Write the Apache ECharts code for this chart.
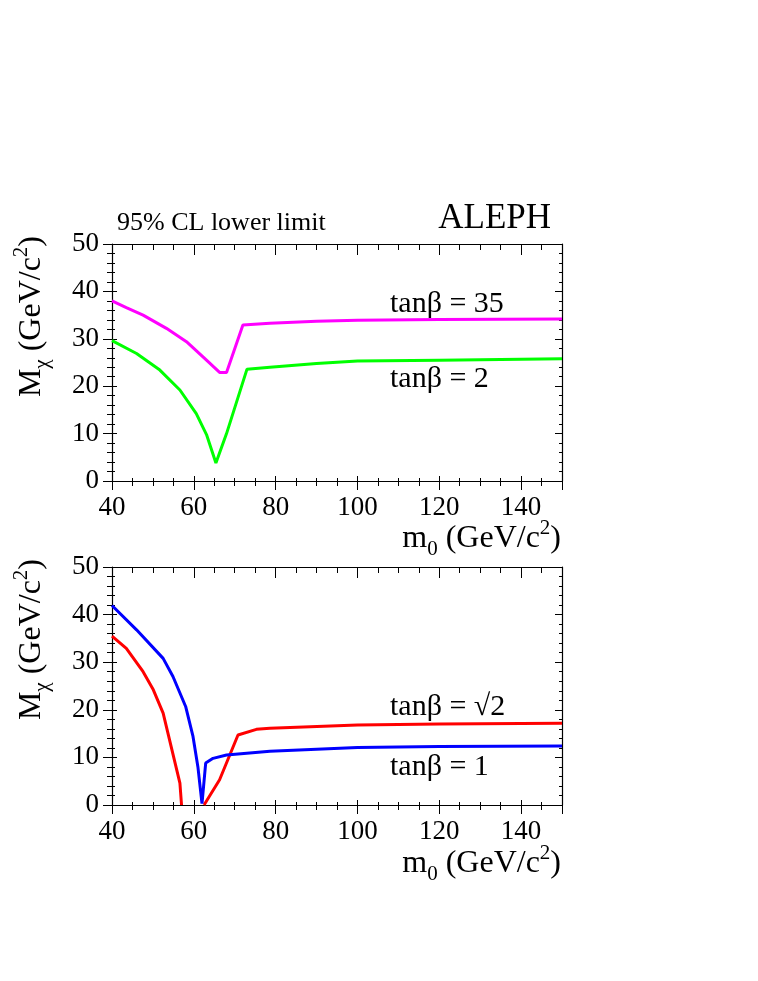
<!DOCTYPE html>
<html>
<head>
<meta charset="utf-8">
<script src="https://cdn.jsdelivr.net/npm/echarts@6.0.0/dist/echarts.min.js"></script>
<style>
  html, body { margin: 0; padding: 0; background: #fff; }
  #main { width: 758px; height: 981px; }
</style>
</head>
<body>
<div id="main"></div>
<script>
// top panel
const m0Tan35 = [40, 43.5, 47.6, 53.3, 58.2, 63.1, 66.3, 68.0, 72.0, 78.6, 90, 100, 120, 150];
const massTan35 = [38.0, 36.6, 35.0, 32.2, 29.4, 25.5, 22.9, 22.9, 32.9, 33.3, 33.7, 33.9, 34.05, 34.2];
const m0Tan2 = [40, 46.0, 51.7, 56.6, 60.6, 63.1, 65.4, 68.0, 73.0, 78.6, 90, 100, 120, 150];
const massTan2 = [29.6, 26.9, 23.4, 19.2, 14.2, 9.8, 3.8, 10.0, 23.6, 24.0, 24.8, 25.3, 25.5, 25.8];
// bottom panel
const m0Tan1 = [40, 46.0, 52.5, 54.9, 58.0, 59.8, 61.0, 62.0, 62.9, 64.7, 68.0, 78.6, 100, 120, 150];
const massTan1 = [41.9, 36.8, 30.8, 27.0, 20.7, 14.4, 8.0, 0.3, 8.8, 9.8, 10.5, 11.3, 12.1, 12.3, 12.4];
const m0TanRt2 = [40, 43.5, 47.6, 50.1, 52.5, 56.6, 57.0, 60, 62.5, 66.3, 70.8, 75.3, 78.6, 100, 120, 150];
const massTanRt2 = [35.5, 32.9, 28.0, 24.2, 19.3, 4.6, 0, null, 0, 5.3, 14.7, 15.9, 16.1, 16.8, 17.0, 17.2];

const xTicks = [40, 60, 80, 100, 120, 140];
const yTicks = [0, 10, 20, 30, 40, 50];

const font = 'Liberation Serif';
const chart = echarts.init(document.getElementById('main'));

const pairs = (xs, ys) => xs.map((x, i) => [x, ys[i]]);

function xAxes(grid) {
  const base = {
    type: 'value', gridIndex: grid, min: 40, max: 150, interval: 20,
    splitLine: { show: false },
    axisLine: { show: true, onZero: false, lineStyle: { color: '#000', width: 1.2 } },
    minorSplitLine: { show: false }
  };
  return [
    Object.assign({}, base, {
      position: 'bottom',
      axisTick: { show: true, inside: false, length: 9, lineStyle: { color: '#000' } },
      minorTick: { show: true, splitNumber: 4, length: 5, lineStyle: { color: '#000' } },
      axisLabel: {
        margin: 13, color: '#000', fontFamily: font, fontSize: 27,
        formatter: v => xTicks.includes(v) ? String(v) : ''
      }
    }),
    Object.assign({}, base, {
      position: 'bottom',
      axisLine: { show: false },
      axisTick: { show: true, inside: true, length: 5, lineStyle: { color: '#000' } },
      minorTick: { show: true, splitNumber: 4, length: 3, lineStyle: { color: '#000' } },
      axisLabel: { show: false }
    }),
    Object.assign({}, base, {
      position: 'top',
      axisTick: { show: true, inside: true, length: 11, lineStyle: { color: '#000' } },
      minorTick: { show: true, splitNumber: 4, length: 6, lineStyle: { color: '#000' } },
      axisLabel: { show: false }
    })
  ];
}

function yAxes(grid) {
  const base = {
    type: 'value', gridIndex: grid, min: 0, max: 50, interval: 10,
    splitLine: { show: false },
    axisLine: { show: true, onZero: false, lineStyle: { color: '#000', width: 1.2 } },
    minorSplitLine: { show: false }
  };
  return [
    Object.assign({}, base, {
      position: 'left',
      axisTick: { show: true, inside: false, length: 9, lineStyle: { color: '#000' } },
      minorTick: { show: true, splitNumber: 5, length: 5, lineStyle: { color: '#000' } },
      axisLabel: {
        margin: 13, color: '#000', fontFamily: font, fontSize: 27,
        formatter: v => yTicks.includes(v) ? String(v) : ''
      }
    }),
    Object.assign({}, base, {
      position: 'left',
      axisLine: { show: false },
      axisTick: { show: true, inside: true, length: 5, lineStyle: { color: '#000' } },
      minorTick: { show: true, splitNumber: 5, length: 3, lineStyle: { color: '#000' } },
      axisLabel: { show: false }
    }),
    Object.assign({}, base, {
      position: 'right',
      axisTick: { show: true, inside: true, length: 7, lineStyle: { color: '#000' } },
      minorTick: { show: true, splitNumber: 5, length: 3, lineStyle: { color: '#000' } },
      axisLabel: { show: false }
    })
  ];
}

function curve(xs, ys, color, axis) {
  return {
    type: 'line', data: pairs(xs, ys), xAxisIndex: axis, yAxisIndex: axis,
    showSymbol: false, symbol: 'none', connectNulls: false,
    lineStyle: { color: color, width: 3 }, z: 1
  };
}

const rich = {
  n: { fontFamily: font, fontSize: 32, lineHeight: 42, fill: '#000' },
  sub: { fontFamily: font, fontSize: 21, lineHeight: 21, verticalAlign: 'bottom', fill: '#000' },
  sup: { fontFamily: font, fontSize: 21, lineHeight: 21, verticalAlign: 'top', fill: '#000' }
};
const xTitle = '{n|m}{sub|0}{n| (GeV/c}{sup|2}{n|)}';
const yTitle = '{n|M}{sub|χ}{n| (GeV/c}{sup|2}{n|)}';

function label(text, x, y, size, align) {
  return {
    type: 'text', x: x, y: y,
    style: { text: text, fontFamily: font, fontSize: size, fill: '#000', align: align || 'left', verticalAlign: 'bottom' }
  };
}

chart.setOption({
  animation: false,
  backgroundColor: '#fff',
  grid: [
    { left: 112, top: 244, width: 450, height: 237 },
    { left: 112, top: 567, width: 450, height: 238 }
  ],
  xAxis: xAxes(0).concat(xAxes(1)),
  yAxis: yAxes(0).concat(yAxes(1)),
  series: [
    curve(m0Tan35, massTan35, '#ff00ff', 0),
    curve(m0Tan2, massTan2, '#00ff00', 0),
    curve(m0TanRt2, massTanRt2, '#ff0000', 3),
    curve(m0Tan1, massTan1, '#0000ff', 3)
  ],
  graphic: [
    label('95% CL lower limit', 117, 236, 26),
    label('ALEPH', 551, 236, 35, 'right'),
    label('tanβ = 35', 390, 319, 30),
    label('tanβ = 2', 390, 394, 30),
    label('tanβ = √2', 390, 722, 30),
    label('tanβ = 1', 390, 782, 30),
    { type: 'text', x: 561, y: 560, style: { text: xTitle, rich: rich, align: 'right', verticalAlign: 'bottom' } },
    { type: 'text', x: 561, y: 885, style: { text: xTitle, rich: rich, align: 'right', verticalAlign: 'bottom' } },
    { type: 'text', x: 53, y: 236, rotation: Math.PI / 2, style: { text: yTitle, rich: rich, align: 'right', verticalAlign: 'bottom' } },
    { type: 'text', x: 53, y: 559, rotation: Math.PI / 2, style: { text: yTitle, rich: rich, align: 'right', verticalAlign: 'bottom' } }
  ]
});
</script>
</body>
</html>
